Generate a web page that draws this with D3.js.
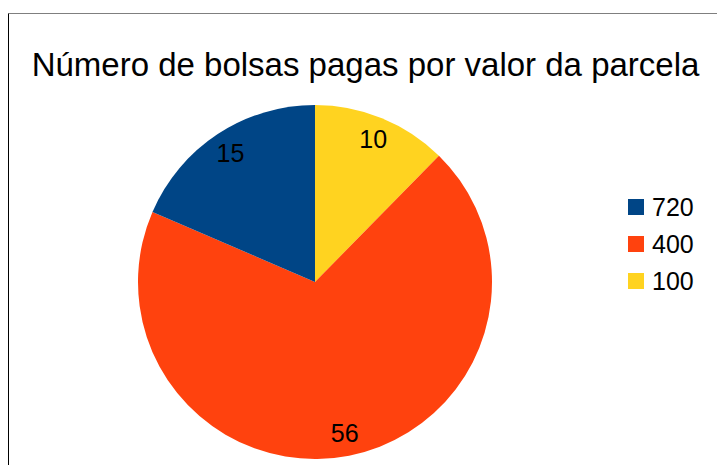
<!DOCTYPE html>
<html>
<head>
<meta charset="utf-8">
<script src="https://cdn.jsdelivr.net/npm/d3@7"></script>
<style>
  body { margin: 0; background: #fff; }
  svg { display: block; font-family: "Liberation Sans", Arial, sans-serif; }
</style>
</head>
<body>
<svg id="chart" width="717" height="465"></svg>
<script>
// pie: bolsas pagas por valor da parcela
var categories = ["100", "400", "720"];
var values = [10, 56, 15];
var legendOrder = ["720", "400", "100"];
var colors = {"720": "#004586", "400": "#ff420e", "100": "#ffd320"};
var title = "Número de bolsas pagas por valor da parcela";

var svg = d3.select("#chart");

// frame (only left and top edges are visible in the window)
svg.append("line")
    .attr("x1", 8.5).attr("y1", 13.5).attr("x2", 717).attr("y2", 13.5)
    .attr("stroke", "#7f7f7f").attr("stroke-width", 1);
svg.append("line")
    .attr("x1", 8.5).attr("y1", 13.5).attr("x2", 8.5).attr("y2", 465)
    .attr("stroke", "#000").attr("stroke-width", 1);

svg.append("text")
    .attr("x", 365.5)
    .attr("y", 76)
    .attr("text-anchor", "middle")
    .attr("font-size", 33)
    .attr("fill", "#000")
    .text(title);

var cx = 315, cy = 282, r = 177;

var data = categories.map(function(c, i) { return {cat: c, value: values[i]}; });

var pie = d3.pie()
    .sort(null)
    .value(function(d) { return d.value; });

var arc = d3.arc().innerRadius(0).outerRadius(r);
var labelArc = d3.arc().innerRadius(r * 0.87).outerRadius(r * 0.87);

var g = svg.append("g")
    .attr("transform", "translate(" + cx + "," + cy + ")");

var arcs = pie(data);

g.selectAll("path")
    .data(arcs)
    .enter().append("path")
    .attr("d", arc)
    .attr("fill", function(d) { return colors[d.data.cat]; });

g.selectAll("text")
    .data(arcs)
    .enter().append("text")
    .attr("transform", function(d) { return "translate(" + labelArc.centroid(d) + ")"; })
    .attr("text-anchor", "middle")
    .attr("dy", "0.36em")
    .attr("font-size", 25)
    .attr("fill", "#000")
    .text(function(d) { return d.data.value; });

// legend
var ly = d3.scalePoint().domain(legendOrder).range([207, 281]);

var leg = svg.append("g");
leg.selectAll("rect")
    .data(legendOrder)
    .enter().append("rect")
    .attr("x", 628)
    .attr("y", function(d) { return ly(d) - 8; })
    .attr("width", 16)
    .attr("height", 16)
    .attr("fill", function(d) { return colors[d]; });

leg.selectAll("text")
    .data(legendOrder)
    .enter().append("text")
    .attr("x", 652)
    .attr("y", ly)
    .attr("dy", "0.36em")
    .attr("font-size", 25)
    .attr("fill", "#000")
    .text(function(d) { return d; });
</script>
</body>
</html>
